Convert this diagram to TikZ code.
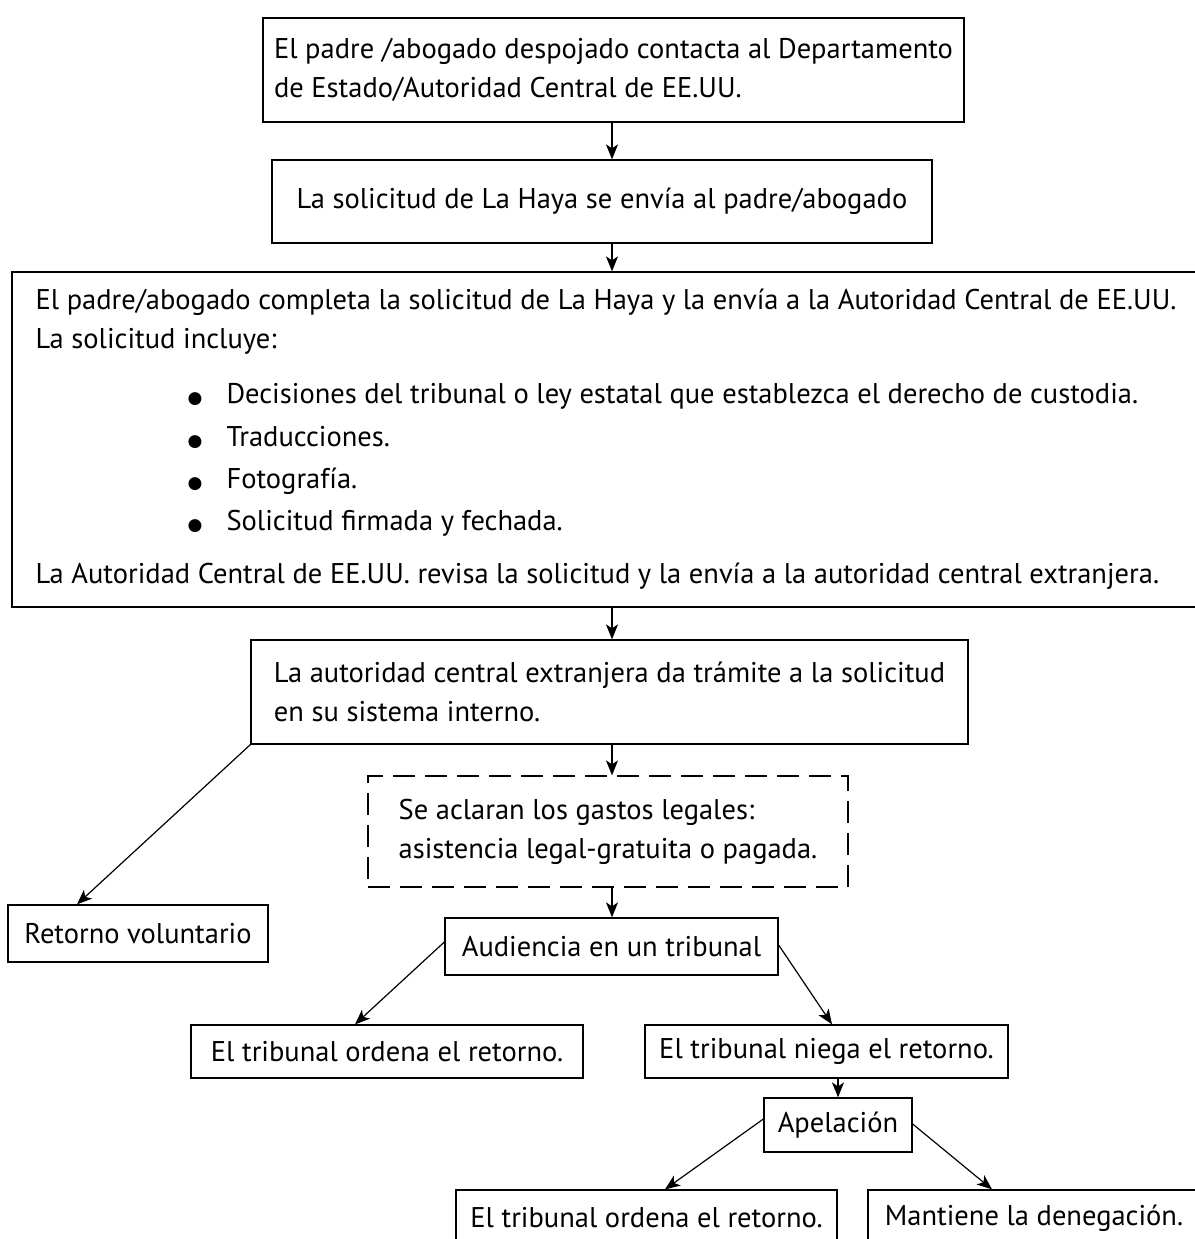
\documentclass[tikz,border=0pt]{standalone}
\usepackage{fontspec}
\setmainfont{PT Sans}
\newfontfamily\symfont{DejaVu Sans}
\usetikzlibrary{arrows.meta,calc}
\newcommand{\bul}{\hspace*{152pt}\makebox[39pt][l]{{\symfont\fontsize{17}{17}\selectfont ●}}}
\begin{document}
\begin{tikzpicture}[x=1pt,y=1pt,
  box/.style={draw,line width=1.3pt,align=left,inner sep=0pt,font=\fontsize{28.5}{39}\selectfont},
  dbox/.style={box,dash pattern=on 22pt off 10pt},
  arr/.style={line width=1.2pt,-{Stealth[length=15pt,width=12pt,inset=4pt]}}]
\useasboundingbox (0,0) rectangle (1194,-1239);
\node[box,minimum width=701,minimum height=104] (b1) at (613.5,-70)
  {El padre /abogado despojado contacta al Departamento\\de Estado/Autoridad Central de EE.UU.};
\node[box,minimum width=660,minimum height=83] (b2) at (602,-201.5)
  {La solicitud de La Haya se envía al padre/abogado};
\node[box,minimum width=1188,minimum height=335] (b3) at (606,-439.5)
  {El padre/abogado completa la solicitud de La Haya y la envía a la Autoridad Central de EE.UU.\\
   La solicitud incluye:\\[16pt]
   \bul Decisiones del tribunal o ley estatal que establezca el derecho de custodia.\\[4pt]
   \bul Traducciones.\\[3pt]
   \bul Fotografía.\\[3pt]
   \bul Solicitud firmada y fechada.\\[14pt]
   La Autoridad Central de EE.UU. revisa la solicitud y la envía a la autoridad central extranjera.};
\node[box,minimum width=717,minimum height=104] (b4) at (609.5,-692)
  {La autoridad central extranjera da trámite a la solicitud\\en su sistema interno.};
\node[dbox,minimum width=480,minimum height=111] (b5) at (608,-831.5)
  {Se aclaran los gastos legales:\\asistencia legal-gratuita o pagada.};
\node[box,minimum width=333,minimum height=57] (aud) at (611.5,-946.5) {Audiencia en un tribunal};
\node[box,minimum width=260,minimum height=57] (ret) at (138,-933.5) {Retorno voluntario};
\node[box,minimum width=392,minimum height=53] (ord1) at (387,-1051.5) {El tribunal ordena el retorno.};
\node[box,minimum width=363,minimum height=53] (neg) at (826.5,-1051.5) {El tribunal niega el retorno.};
\node[box,minimum width=148,minimum height=54] (ape) at (838,-1125) {Apelación};
\node[box,minimum width=381,minimum height=56] (ord2) at (646.5,-1218) {El tribunal ordena el retorno.};
\node[box,minimum width=332,minimum height=56] (man) at (1034,-1218) {Mantiene la denegación.};
\coordinate (ax) at (612,0);
\draw[arr] (ax |- b1.south) -- (ax |- b2.north);
\draw[arr] (ax |- b2.south) -- (ax |- b3.north);
\draw[arr] (ax |- b3.south) -- (ax |- b4.north);
\draw[arr] (ax |- b4.south) -- (ax |- b5.north);
\draw[arr] (ax |- b5.south) -- (ax |- aud.north);
\draw[arr] (b4.south west) -- ([xshift=-61pt]ret.north);
\draw[arr] ([yshift=4.5pt]aud.west) -- ([xshift=-32pt]ord1.north);
\draw[arr] ([yshift=1.5pt]aud.east) -- ([xshift=5.5pt]neg.north);
\draw[arr] (ape.north |- neg.south) -- (ape.north);
\draw[arr] ([yshift=6pt]ape.west) -- ([xshift=18.5pt]ord2.north);
\draw[arr] ([yshift=1pt]ape.east) -- ([xshift=-42pt]man.north);
\end{tikzpicture}
\end{document}
